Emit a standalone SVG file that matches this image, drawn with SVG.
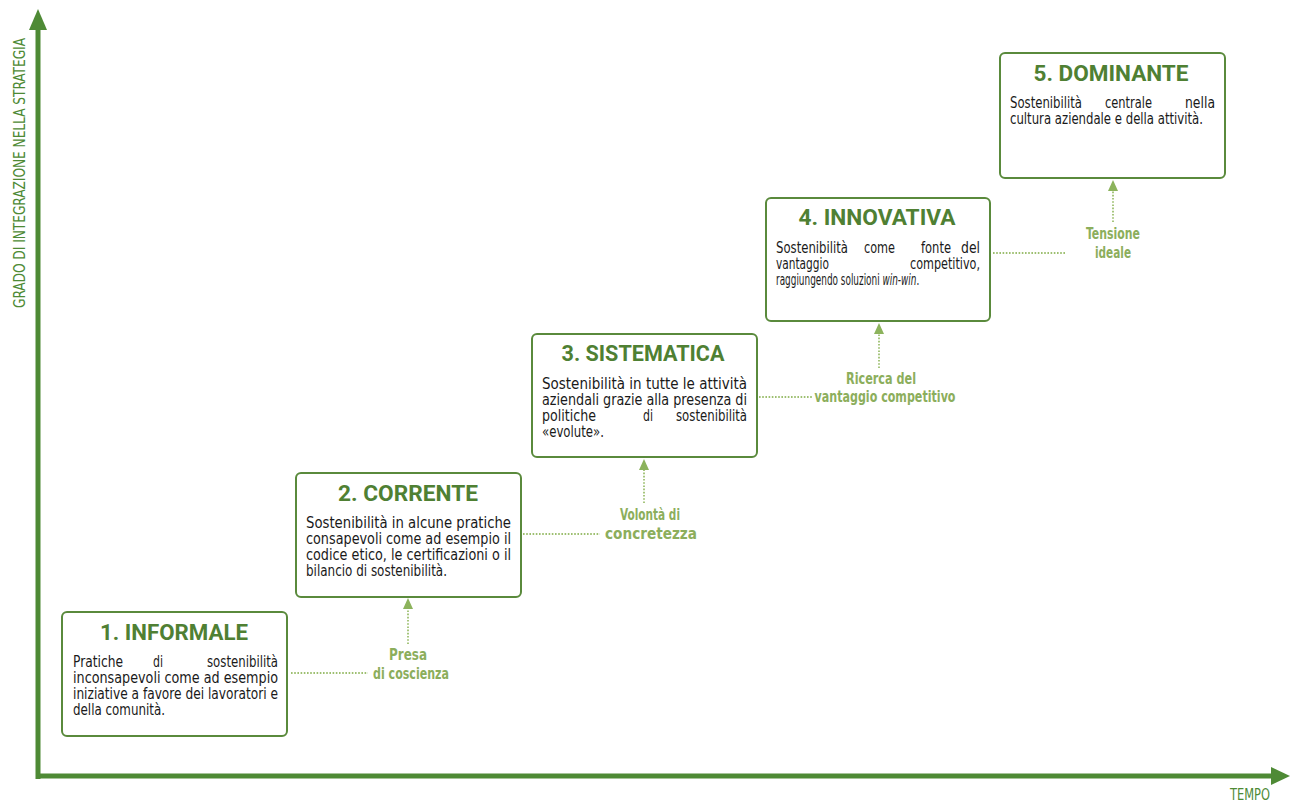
<svg xmlns="http://www.w3.org/2000/svg" width="1292" height="803" viewBox="0 0 1292 803">
<style>
.box{fill:#fff;stroke:#5a8a3c;stroke-width:2}
.title{font-family:Roboto,"DejaVu Sans",sans-serif;font-weight:bold;font-size:22px;fill:#4f8033;text-anchor:middle}
.body{font-family:"DejaVu Sans Condensed","DejaVu Sans",sans-serif;font-size:15px;fill:#1a1a1a}
.lbl{font-family:"DejaVu Sans Condensed","DejaVu Sans",sans-serif;font-weight:bold;font-size:15.5px;fill:#8cae5c;text-anchor:middle}
.axis{stroke:#4e8a35;stroke-width:5;fill:none}
.axlbl{font-family:"DejaVu Sans Condensed","DejaVu Sans",sans-serif;font-size:15px;fill:#4e8a35}
.dot{stroke:#9dbf70;stroke-width:1.8;stroke-dasharray:1.6 1.6;fill:none}
.ah{fill:#8cb35c}
</style>
<rect width="1292" height="803" fill="#fff"/>
<g id="axes">
<line class="axis" x1="38" y1="779" x2="38" y2="26"/>
<polygon points="38,9 29,30 47,30" fill="#4e8a35"/>
<line class="axis" x1="36" y1="776" x2="1274" y2="776"/>
<polygon points="1290,776 1271,767 1271,785" fill="#4e8a35"/>
<text class="axlbl" transform="translate(25,308) rotate(-90)" textLength="270" lengthAdjust="spacingAndGlyphs">GRADO DI INTEGRAZIONE NELLA STRATEGIA</text>
<text class="axlbl" x="1230" y="800" textLength="40" lengthAdjust="spacingAndGlyphs">TEMPO</text>
</g>
<g id="node1">
<rect class="box" x="62" y="612" width="225" height="124" rx="5"/>
<text class="title" x="174" y="640" textLength="148" lengthAdjust="spacingAndGlyphs">1. INFORMALE</text>
<text class="body" x="73" y="667" textLength="50" lengthAdjust="spacingAndGlyphs">Pratiche</text>
<text class="body" x="153" y="667" textLength="10" lengthAdjust="spacingAndGlyphs">di</text>
<text class="body" x="207" y="667" textLength="71" lengthAdjust="spacingAndGlyphs">sostenibilità</text>
<text class="body" x="73" y="683" textLength="205" lengthAdjust="spacingAndGlyphs">inconsapevoli come ad esempio</text>
<text class="body" x="73" y="699" textLength="205" lengthAdjust="spacingAndGlyphs">iniziative a favore dei lavoratori e</text>
<text class="body" x="73" y="715" textLength="92" lengthAdjust="spacingAndGlyphs">della comunità.</text>
</g>
<g id="node2">
<rect class="box" x="296" y="473" width="225" height="124" rx="5"/>
<text class="title" x="408" y="501" textLength="140" lengthAdjust="spacingAndGlyphs">2. CORRENTE</text>
<text class="body" x="306" y="528" textLength="205" lengthAdjust="spacingAndGlyphs">Sostenibilità in alcune pratiche</text>
<text class="body" x="306" y="544" textLength="205" lengthAdjust="spacingAndGlyphs">consapevoli come ad esempio il</text>
<text class="body" x="306" y="560" textLength="205" lengthAdjust="spacingAndGlyphs">codice etico, le certificazioni o il</text>
<text class="body" x="306" y="576" textLength="141" lengthAdjust="spacingAndGlyphs">bilancio di sostenibilità.</text>
</g>
<g id="node3">
<rect class="box" x="532" y="334" width="225" height="123" rx="5"/>
<text class="title" x="643" y="361" textLength="163" lengthAdjust="spacingAndGlyphs">3. SISTEMATICA</text>
<text class="body" x="542" y="389" textLength="205" lengthAdjust="spacingAndGlyphs">Sostenibilità in tutte le attività</text>
<text class="body" x="542" y="405" textLength="205" lengthAdjust="spacingAndGlyphs">aziendali grazie alla presenza di</text>
<text class="body" x="542" y="421" textLength="54" lengthAdjust="spacingAndGlyphs">politiche</text>
<text class="body" x="643" y="421" textLength="10" lengthAdjust="spacingAndGlyphs">di</text>
<text class="body" x="676" y="421" textLength="71" lengthAdjust="spacingAndGlyphs">sostenibilità</text>
<text class="body" x="542" y="437" textLength="62" lengthAdjust="spacingAndGlyphs">«evolute».</text>
</g>
<g id="node4">
<rect class="box" x="766" y="198" width="224" height="123" rx="5"/>
<text class="title" x="877" y="225" textLength="157" lengthAdjust="spacingAndGlyphs">4. INNOVATIVA</text>
<text class="body" x="776" y="253" textLength="72" lengthAdjust="spacingAndGlyphs">Sostenibilità</text>
<text class="body" x="864" y="253" textLength="31" lengthAdjust="spacingAndGlyphs">come</text>
<text class="body" x="921" y="253" textLength="30" lengthAdjust="spacingAndGlyphs">fonte</text>
<text class="body" x="961" y="253" textLength="19" lengthAdjust="spacingAndGlyphs">del</text>
<text class="body" x="776" y="269" textLength="53" lengthAdjust="spacingAndGlyphs">vantaggio</text>
<text class="body" x="910" y="269" textLength="70" lengthAdjust="spacingAndGlyphs">competitivo,</text>
<text class="body" transform="translate(776,285) scale(0.66,1)">raggiungendo soluzioni <tspan font-style="italic">win-win</tspan>.</text>
</g>
<g id="node5">
<rect class="box" x="1000" y="53" width="225" height="125" rx="5"/>
<text class="title" x="1111" y="81" textLength="155" lengthAdjust="spacingAndGlyphs">5. DOMINANTE</text>
<text class="body" x="1010" y="108" textLength="72" lengthAdjust="spacingAndGlyphs">Sostenibilità</text>
<text class="body" x="1105" y="108" textLength="47" lengthAdjust="spacingAndGlyphs">centrale</text>
<text class="body" x="1185" y="108" textLength="30" lengthAdjust="spacingAndGlyphs">nella</text>
<text class="body" x="1010" y="124" textLength="193" lengthAdjust="spacingAndGlyphs">cultura aziendale e della attività.</text>
</g>
<g id="connectors">
<line class="dot" x1="291" y1="673" x2="368" y2="673"/>
<line class="dot" x1="408" y1="644" x2="408" y2="607"/>
<polygon class="ah" points="408,598 403,609 413,609"/>
<text class="lbl" x="408" y="660" textLength="38" lengthAdjust="spacingAndGlyphs">Presa</text>
<text class="lbl" x="411" y="679" textLength="76" lengthAdjust="spacingAndGlyphs">di coscienza</text>

<line class="dot" x1="523" y1="534" x2="600" y2="534"/>
<line class="dot" x1="644" y1="503" x2="644" y2="469"/>
<polygon class="ah" points="644,459 639,470 649,470"/>
<text class="lbl" x="650" y="520" textLength="60" lengthAdjust="spacingAndGlyphs">Volontà di</text>
<text class="lbl" x="651" y="539" textLength="92" lengthAdjust="spacingAndGlyphs">concretezza</text>

<line class="dot" x1="759" y1="397" x2="812" y2="397"/>
<line class="dot" x1="879" y1="368" x2="879" y2="332"/>
<polygon class="ah" points="879,323 874,334 884,334"/>
<text class="lbl" x="881" y="384" textLength="70" lengthAdjust="spacingAndGlyphs">Ricerca del</text>
<text class="lbl" x="885" y="402" textLength="141" lengthAdjust="spacingAndGlyphs">vantaggio competitivo</text>

<line class="dot" x1="993" y1="253" x2="1066" y2="253"/>
<line class="dot" x1="1113" y1="222" x2="1113" y2="189"/>
<polygon class="ah" points="1113,180 1108,191 1118,191"/>
<text class="lbl" x="1113" y="239" textLength="54" lengthAdjust="spacingAndGlyphs">Tensione</text>
<text class="lbl" x="1113" y="258" textLength="36" lengthAdjust="spacingAndGlyphs">ideale</text>
</g>
</svg>
